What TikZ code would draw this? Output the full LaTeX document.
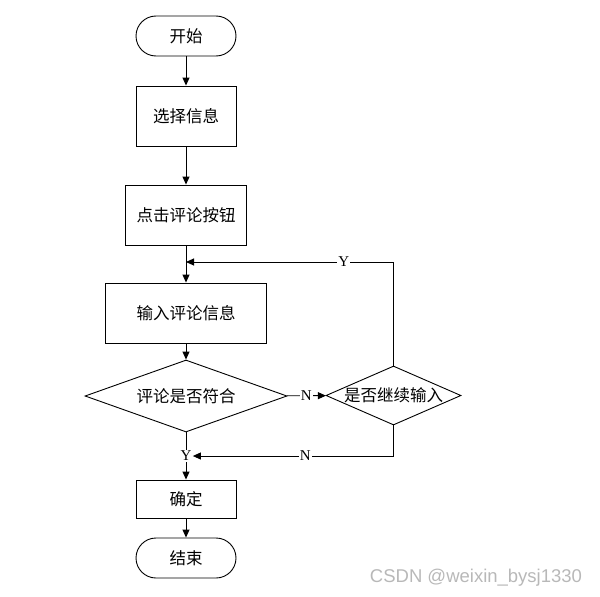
\documentclass[tikz,border=0pt]{standalone}
\usepackage{fontspec}
\setmainfont{Liberation Serif}
\newfontfamily\cjkfont{Noto Sans CJK SC}
\newfontfamily\markfont{Liberation Sans}
\usetikzlibrary{arrows.meta,shapes.geometric}
\begin{document}
\begin{tikzpicture}[x=1pt,y=-1pt,line width=0.9pt,
    every node/.style={font=\cjkfont\fontsize{16.5}{19}\selectfont},
    terminal/.style={draw,rounded corners=20pt,minimum width=100pt,minimum height=40pt,inner sep=0pt},
    stepbox/.style={draw,minimum height=60pt,inner sep=0pt},
    decision/.style={draw,diamond,inner sep=0pt},
    yn/.style={fill=white,inner sep=1pt,font=\fontsize{15}{16}\selectfont},
    flow/.style={-{Triangle[length=8pt,width=7pt]}}]
    \useasboundingbox (0,0) rectangle (600,597);
    % main column
    \node[terminal] (start) at (186,36) {开始};
    \node[stepbox,minimum width=100pt] (select) at (186,116) {选择信息};
    \node[stepbox,minimum width=121pt] (click) at (186,215) {点击评论按钮};
    \node[stepbox,minimum width=161pt] (input) at (186,313) {输入评论信息};
    \node[decision,aspect=2.8,minimum width=202pt,minimum height=72pt] (check) at (186,396) {评论是否符合};
    \node[decision,aspect=2.29,minimum width=135pt,minimum height=59pt] (again) at (393.5,395.5) {是否继续输入};
    \node[yn] (yes) at (186,456) {Y};
    \node[stepbox,minimum width=100pt,minimum height=38pt] (ok) at (186,499) {确定};
    \node[terminal] (stop) at (186,558) {结束};
    \coordinate (loop) at (186,262);
    % connectors
    \draw[flow] (start) -- (select);
    \draw[flow] (select) -- (click);
    \draw[flow] (click) -- (input);
    \draw[flow] (input) -- (check);
    \draw[flow] (check) -- node[yn]{N} (again);
    \draw[flow] (again.north) |- node[yn,pos=0.62]{Y} (loop);
    \draw (check.south) -- (yes);
    \draw[flow] (again.south) |- node[yn,pos=0.72]{N} (yes.east);
    \draw[flow] (yes) -- (ok);
    \draw[flow] (ok) -- (stop);
    \node[font=\markfont\fontsize{18.5}{20}\selectfont,text=black!28] (mark) at (476,578) {CSDN @weixin\_bysj1330};
\end{tikzpicture}
\end{document}
